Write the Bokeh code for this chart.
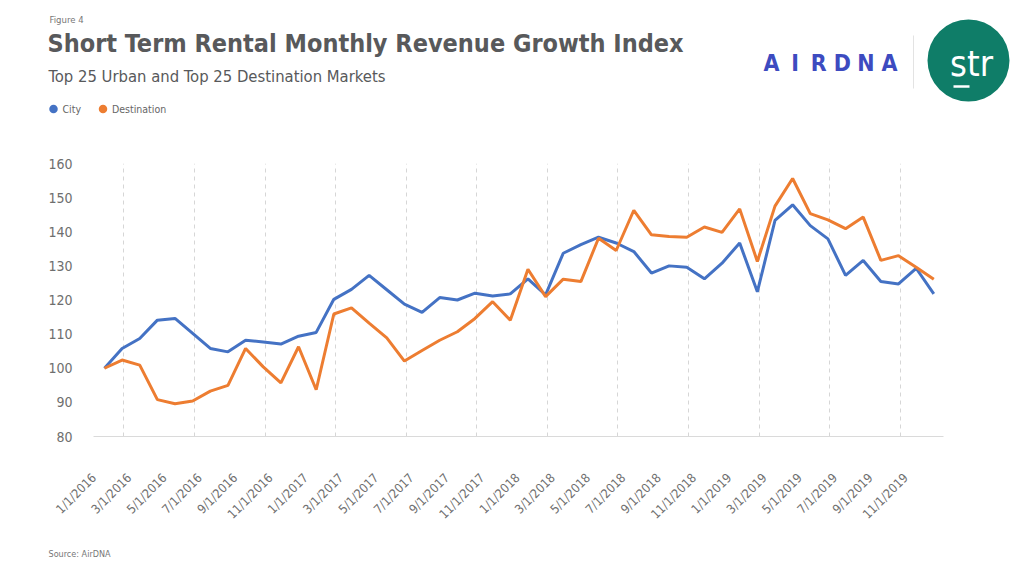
import math
from bokeh.plotting import figure
from bokeh.models import Range1d, FixedTicker, ColumnDataSource
from bokeh.layouts import column, row
from bokeh.embed import file_html
from bokeh.resources import INLINE
from bokeh.core.properties import value

# ---------------- data ----------------
months = [f"{m}/1/{y}" for y in range(2016, 2020) for m in range(1, 13)]

city = [100.0, 105.8, 108.7, 114.1, 114.6, 110.2, 105.8, 104.8, 108.2, 107.7, 107.1, 109.4,
        110.5, 120.2, 123.1, 127.2, 123.0, 118.8, 116.4, 120.7, 120.0, 122.0, 121.2, 121.8,
        126.2, 121.5, 133.7, 136.2, 138.4, 136.7, 134.2, 127.9, 130.0, 129.6, 126.2, 130.8,
        136.7, 122.4, 143.3, 147.9, 141.8, 137.9, 127.2, 131.6, 125.4, 124.7, 129.3, 121.8]

destination = [100.0, 102.4, 100.9, 90.8, 89.6, 90.4, 93.3, 95.0, 105.8, 100.4, 95.7, 106.3,
               93.7, 115.9, 117.7, 113.2, 108.9, 102.1, 105.2, 108.2, 110.7, 114.6, 119.5, 114.1,
               129.0, 121.0, 126.1, 125.4, 138.1, 134.5, 146.3, 139.1, 138.6, 138.4, 141.4, 139.8,
               146.7, 131.3, 147.5, 155.6, 145.3, 143.5, 140.9, 144.3, 131.6, 133.0, 129.6, 126.1]

y_ticks = [80, 90, 100, 110, 120, 130, 140, 150, 160]
series_names = ["City", "Destination"]
series_colors = ["#4472C4", "#ED7D31"]

title_text = "Short Term Rental Monthly Revenue Growth Index"
subtitle_text = "Top 25 Urban and Top 25 Destination Markets"
figure_text = "Figure 4"
source_text = "Source: AirDNA"
logo_letters = list("AIRDNA")

FONT = "DejaVu Sans Condensed"
TXT = "#58595B"
W = 1024


def blank(h):
    f = figure(width=W, height=h, output_backend="svg", toolbar_location=None,
               x_range=Range1d(0, W), y_range=Range1d(h, 0),
               x_axis_location=None, y_axis_location=None, min_border=0)
    f.xgrid.visible = False
    f.ygrid.visible = False
    f.outline_line_color = None
    return f


def txt(f, x, y, t, size, color, bold=False, align="left", baseline="middle"):
    f.text(x=[x], y=[y], text=[t], text_font=value(FONT), text_font_size=f"{size}px",
           text_color=color, text_font_style="bold" if bold else "normal",
           text_align=align, text_baseline=baseline)


# ---------------- header (page pixels 0..150) ----------------
hdr = blank(150)
txt(hdr, 49, 19, figure_text, 9.5, "#777777")
txt(hdr, 47, 43, title_text, 25, TXT, bold=True)
txt(hdr, 48, 76, subtitle_text, 16.5, TXT)

leg_x = [53, 102.5]
for i, name in enumerate(series_names):
    hdr.scatter(x=[leg_x[i]], y=[108.5], size=8.5, color=series_colors[i], line_color=None)
    txt(hdr, leg_x[i] + 9, 108.5, name, 10.5, "#666666")

for k, ch in enumerate(logo_letters):
    txt(hdr, 771 + k * 23.6, 62, ch, 23, "#3D4BC0", bold=True, align="center")
hdr.segment(x0=[913], y0=[35], x1=[913], y1=[88], line_color="#E3E3E3", line_width=1)
hdr.circle(x=[968], y=[60], radius=41, color="#0F7D68", line_color=None)
txt(hdr, 971, 63, "str", 36, "white", align="center", baseline="middle")
hdr.segment(x0=[953], y0=[86], x1=[969], y1=[86], line_color="white", line_width=2.5)

# ---------------- main chart (page pixels 150..540) ----------------
src = ColumnDataSource(dict(x=list(range(len(months))), city=city, destination=destination))

p = figure(width=W, height=390, output_backend="svg", toolbar_location=None,
           x_range=Range1d(-0.62, len(months) - 0.45), y_range=Range1d(y_ticks[0], y_ticks[-1]),
           min_border_left=93, min_border_right=81, min_border_top=13, min_border_bottom=104)
p.outline_line_color = None

p.line("x", "city", source=src, line_color=series_colors[0], line_width=3)
p.line("x", "destination", source=src, line_color=series_colors[1], line_width=3)

p.ygrid.visible = False
p.xgrid.ticker = FixedTicker(ticks=[1.1 + 4 * k for k in range(12)])
p.xgrid.grid_line_color = "#D6D6D6"
p.xgrid.grid_line_dash = "4 4"
p.xgrid.grid_line_width = 1

p.xaxis.ticker = FixedTicker(ticks=[i - 0.6 for i in range(0, len(months), 2)])
p.xaxis.major_label_overrides = {i - 0.6: months[i] for i in range(0, len(months), 2)}
p.xaxis.major_label_orientation = math.pi / 4
p.xaxis.axis_line_color = "#DADADA"
p.xaxis.major_tick_line_color = None
p.xaxis.major_tick_out = 0
p.xaxis.major_tick_in = 0
p.xaxis.minor_tick_line_color = None
p.xaxis.major_label_standoff = 39
p.xaxis.major_label_text_font = FONT
p.xaxis.major_label_text_font_size = "12.5px"
p.xaxis.major_label_text_color = "#6E6E6E"

p.yaxis.ticker = FixedTicker(ticks=y_ticks)
p.yaxis.axis_line_color = None
p.yaxis.major_tick_line_color = None
p.yaxis.major_tick_out = 0
p.yaxis.major_tick_in = 0
p.yaxis.minor_tick_line_color = None
p.yaxis.major_label_standoff = 21
p.yaxis.major_label_text_font = FONT
p.yaxis.major_label_text_font_size = "14px"
p.yaxis.major_label_text_color = "#6E6E6E"

# ---------------- footer (page pixels 540..570) ----------------
ftr = blank(30)
txt(ftr, 48, 13, source_text, 9, "#777777")

layout = column(row(hdr), p, row(ftr), spacing=0)
open("out.html", "w").write(file_html(layout, INLINE))
